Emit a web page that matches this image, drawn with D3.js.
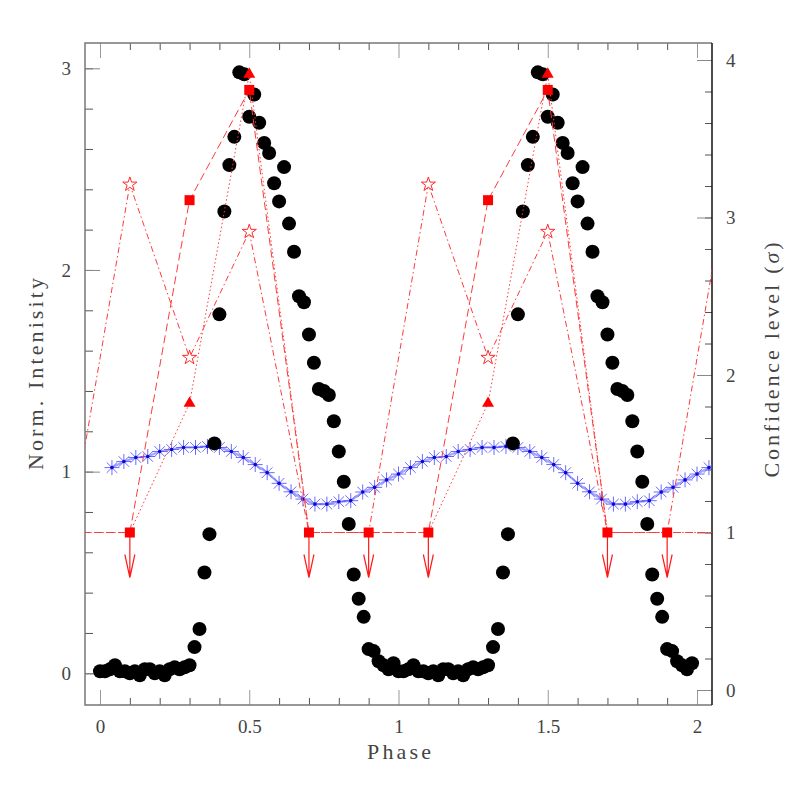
<!DOCTYPE html>
<html>
<head>
<meta charset="utf-8">
<script src="https://cdn.jsdelivr.net/npm/d3@7"></script>
<style>
  body { margin: 0; background: #fff; }
  text { font-family: "Liberation Serif", "DejaVu Serif", serif; fill: #444; }
</style>
</head>
<body>
<svg width="790" height="790"></svg>
<script>
// pulse profile, 60 bins per cycle (norm. intensity, left axis)
var profile = [0.01, 0.01, 0.02, 0.04, 0.01, 0.01, 0.00, 0.01, -0.01, 0.02,
               0.02, 0.00, 0.01, -0.01, 0.02, 0.03, 0.02, 0.03, 0.04, 0.13,
               0.22, 0.50, 0.69, 1.14, 1.78, 2.29, 2.52, 2.66, 2.98, 2.97,
               2.76, 2.87, 2.73, 2.63, 2.58, 2.43, 2.34, 2.51, 2.23, 2.09,
               1.87, 1.84, 1.68, 1.54, 1.41, 1.40, 1.38, 1.25, 1.10, 0.95,
               0.74, 0.49, 0.37, 0.28, 0.12, 0.11, 0.06, 0.04, 0.02, 0.05];

// blue comparison curve, 25 bins per cycle, phases 0.04 ... 1.00
var blueCurve = [1.02, 1.05, 1.07, 1.075, 1.10, 1.11, 1.12, 1.12, 1.125, 1.12,
                 1.10, 1.07, 1.035, 0.995, 0.942, 0.90, 0.864, 0.839, 0.839, 0.851,
                 0.856, 0.899, 0.922, 0.959, 0.988];

// confidence levels (sigma, right axis) in 5 phase bins; ul = upper limit
var redPhase  = [0.1, 0.3, 0.5, 0.7, 0.9];
var sigStar   = [3.21, 2.11, 2.91, 1, 1];
var ulStar    = [0, 0, 0, 1, 1];
var sigSquare = [1, 3.11, 3.81, 1, 1];
var ulSquare  = [1, 0, 0, 1, 1];
var sigTri    = [1, 1.82, 3.91, 1, 1];
var ulTri     = [1, 0, 0, 1, 1];

var xMajor = [0, 0.5, 1, 1.5, 2];
var yLeftMajor = [0, 1, 2, 3];
var yRightMajor = [0, 1, 2, 3, 4];

var svg = d3.select("svg");
var L = 85, R = 712, T = 43, B = 705;

var x = d3.scaleLinear().domain([0, 2]).range([100, 697]);
var yL = d3.scaleLinear().domain([0, 3]).range([673.3, 68.3]);
var yR = d3.scaleLinear().domain([0, 4]).range([690, 60]);

svg.append("clipPath").attr("id", "plot")
    .append("rect").attr("x", L).attr("y", T).attr("width", R - L).attr("height", B - T);

// axes
function styleAxis(g, col) {
    g.select(".domain").remove();
    g.selectAll(".tick line").attr("stroke", col);
    g.selectAll(".tick text").style("font-size", "19px").attr("fill", "#444");
}
var fmt = d3.format("");
var xMinor = d3.range(0, 2.01, 0.1).filter(function(d) { return Math.abs(d * 2 - Math.round(d * 2)) > 0.01; });
var yLMinor = d3.range(0, 3.01, 0.2);
var yRMinor = d3.range(0, 4.01, 0.2);

svg.append("g").attr("transform", "translate(0," + B + ")")
    .call(d3.axisBottom(x).tickValues(xMinor).tickSize(-7).tickFormat(""))
    .call(styleAxis, "#555");
svg.append("g").attr("transform", "translate(0," + B + ")")
    .call(d3.axisBottom(x).tickValues(xMajor).tickSize(-15).tickPadding(15).tickFormat(fmt))
    .call(styleAxis, "#999");
svg.append("g").attr("transform", "translate(0," + T + ")")
    .call(d3.axisTop(x).tickValues(xMinor).tickSize(-7).tickFormat(""))
    .call(styleAxis, "#555");
svg.append("g").attr("transform", "translate(0," + T + ")")
    .call(d3.axisTop(x).tickValues(xMajor).tickSize(-15).tickFormat(""))
    .call(styleAxis, "#999");

svg.append("g").attr("transform", "translate(" + L + ",0)")
    .call(d3.axisLeft(yL).tickValues(yLMinor).tickSize(-8).tickFormat(""))
    .call(styleAxis, "#555");
svg.append("g").attr("transform", "translate(" + L + ",0)")
    .call(d3.axisLeft(yL).tickValues(yLeftMajor).tickSize(-15).tickPadding(14).tickFormat(fmt))
    .call(styleAxis, "#888");
svg.append("g").attr("transform", "translate(" + R + ",0)")
    .call(d3.axisRight(yR).tickValues(yRMinor).tickSize(-7).tickFormat(""))
    .call(styleAxis, "#555");
svg.append("g").attr("transform", "translate(" + R + ",0)")
    .call(d3.axisRight(yR).tickValues(yRightMajor).tickSize(-15).tickPadding(14).tickFormat(fmt))
    .call(styleAxis, "#888");

// frame
svg.append("path")
    .attr("d", "M" + R + "," + T + "H" + L + "V" + B + "H" + R)
    .attr("fill", "none").attr("stroke", "#777").attr("stroke-width", 1.5);
svg.append("line")
    .attr("x1", R).attr("x2", R).attr("y1", T).attr("y2", B)
    .attr("stroke", "#111").attr("stroke-width", 1.5);

// titles
svg.append("text")
    .attr("x", 399).attr("y", 759)
    .attr("text-anchor", "middle")
    .attr("textLength", 64)
    .style("font-size", "22px")
    .text("Phase");
svg.append("text")
    .attr("transform", "translate(43,374) rotate(-90)")
    .attr("text-anchor", "middle")
    .attr("textLength", 192)
    .style("font-size", "22px")
    .text("Norm. Intenisity");
var rt = svg.append("text")
    .attr("transform", "translate(779,360) rotate(-90)")
    .attr("text-anchor", "middle")
    .attr("textLength", 235)
    .style("font-size", "22px");
rt.append("tspan").text("Confidence level (");
rt.append("tspan").style("font-style", "italic").text("σ");
rt.append("tspan").text(")");

var plot = svg.append("g").attr("clip-path", "url(#plot)");

// blue curve: two cycles, phases 0.04 .. 2.04
var blue = d3.range(1, 52).map(function(k) {
    return { x: k * 0.04, y: blueCurve[(k - 1) % 25] };
});
plot.append("path")
    .datum(blue)
    .attr("d", d3.line().x(function(d) { return x(d.x); }).y(function(d) { return yL(d.y); }))
    .attr("fill", "none")
    .attr("stroke", "#a4a4ff")
    .attr("stroke-width", 2.2);
var ast = plot.append("g").selectAll("g")
    .data(blue)
    .enter().append("g")
    .attr("transform", function(d) { return "translate(" + x(d.x) + "," + yL(d.y) + ")"; });
ast.append("path")
    .attr("d", "M-7.5,0H7.5M0,-7.5V7.5M-5.3,-5.3L5.3,5.3M-5.3,5.3L5.3,-5.3")
    .attr("stroke", "#5a5aff")
    .attr("stroke-width", 0.9);
ast.append("circle").attr("r", 1.8).attr("fill", "#0a0ad0");

// black profile dots, two cycles
var dots = d3.range(0, 120).map(function(i) {
    return { x: i / 60, y: profile[i % 60] };
});
plot.append("g").selectAll("circle")
    .data(dots)
    .enter().append("circle")
    .attr("cx", function(d) { return x(d.x); })
    .attr("cy", function(d) { return yL(d.y); })
    .attr("r", 7)
    .attr("fill", "#000");

// red confidence series
function cycles(sig, ul) {
    var pts = [];
    [-1, 0, 1, 2].forEach(function(c) {
        redPhase.forEach(function(p, i) {
            var ph = p + c;
            if (ph > -0.15 && ph < 2.15) pts.push({ x: ph, s: sig[i], ul: ul[i] });
        });
    });
    return pts;
}
var series = [
    { pts: cycles(sigStar, ulStar), dash: "6,3,1.5,3", sym: d3.symbolStar, size: 63, fill: "#fff" },
    { pts: cycles(sigSquare, ulSquare), dash: "8,4", sym: d3.symbolSquare, size: 100, fill: "#ff0000" },
    { pts: cycles(sigTri, ulTri), dash: "1.5,2.5", sym: d3.symbolTriangle, size: 62, fill: "#ff0000" }
];
var redLine = d3.line().x(function(d) { return x(d.x); }).y(function(d) { return yR(d.s); });

series.forEach(function(s) {
    plot.append("path")
        .datum(s.pts)
        .attr("d", redLine)
        .attr("fill", "none")
        .attr("stroke", "#ff3a3a")
        .attr("stroke-width", 1)
        .attr("stroke-dasharray", s.dash);
});

// upper limits: square with arrow
var ulPts = cycles(sigSquare, ulSquare).filter(function(d) { return d.ul && d.x >= 0 && d.x <= 2; });
var ulg = plot.append("g").selectAll("g")
    .data(ulPts)
    .enter().append("g")
    .attr("transform", function(d) { return "translate(" + x(d.x) + "," + yR(d.s) + ")"; });
ulg.append("path")
    .attr("d", "M0,0V45M-5,22L0,45L5,22")
    .attr("fill", "none")
    .attr("stroke", "#ff1a1a")
    .attr("stroke-width", 1.2);
ulg.append("path")
    .attr("d", d3.symbol(d3.symbolSquare, 100))
    .attr("fill", "#ff0000");

// detections
series.forEach(function(s) {
    plot.append("g").selectAll("path")
        .data(s.pts.filter(function(d) { return !d.ul && d.x >= 0 && d.x <= 2; }))
        .enter().append("path")
        .attr("transform", function(d) { return "translate(" + x(d.x) + "," + yR(d.s) + ")"; })
        .attr("d", d3.symbol(s.sym, s.size))
        .attr("fill", s.fill)
        .attr("stroke", s.fill === "#fff" ? "#ff2a2a" : "none")
        .attr("stroke-width", 1);
});
</script>
</body>
</html>
